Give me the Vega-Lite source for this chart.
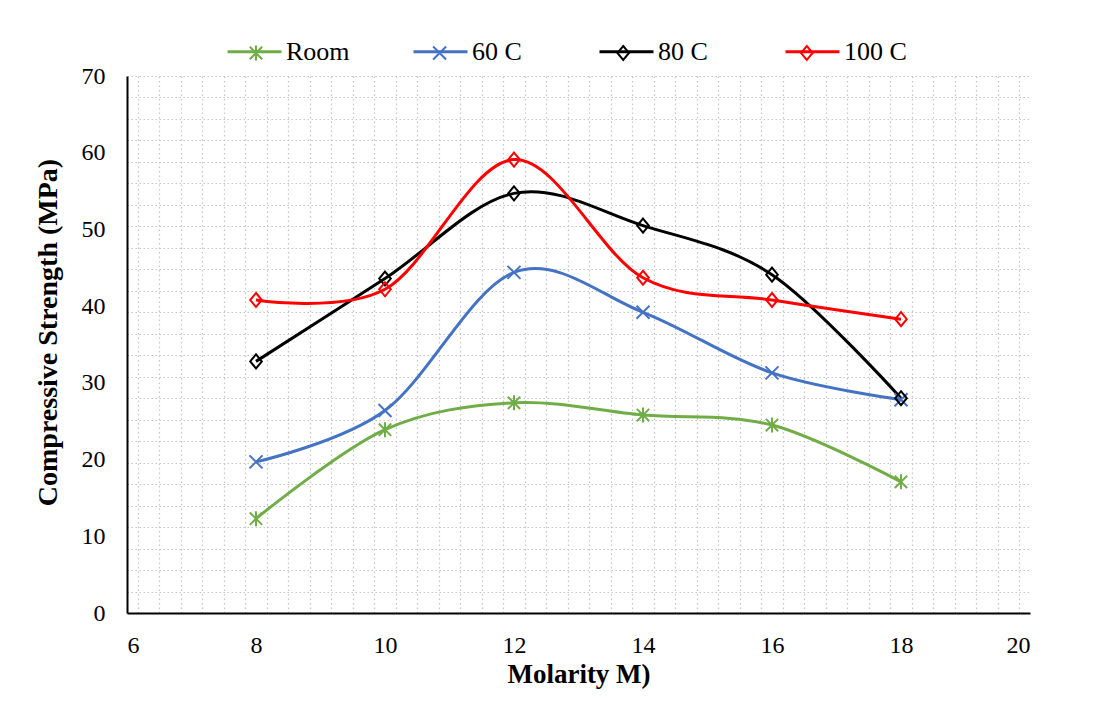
{
  "$schema": "https://vega.github.io/schema/vega-lite/v6.json",
  "width": 903,
  "height": 537,
  "autosize": "none",
  "padding": {"left": 127, "top": 76, "right": 83, "bottom": 89},
  "background": "white",
  "config": {
    "view": {"stroke": null},
    "font": "Liberation Serif",
    "axis": {"labelFont": "Liberation Serif", "titleFont": "Liberation Serif"}
  },
  "data": {
    "values": [
      {"series": "Room", "M": 8, "S": 12.3},
      {"series": "Room", "M": 10, "S": 23.9},
      {"series": "Room", "M": 12, "S": 27.4},
      {"series": "Room", "M": 14, "S": 25.8},
      {"series": "Room", "M": 16, "S": 24.5},
      {"series": "Room", "M": 18, "S": 17.1},
      {"series": "60 C", "M": 8, "S": 19.7},
      {"series": "60 C", "M": 10, "S": 26.4},
      {"series": "60 C", "M": 12, "S": 44.4},
      {"series": "60 C", "M": 14, "S": 39.2},
      {"series": "60 C", "M": 16, "S": 31.3},
      {"series": "60 C", "M": 18, "S": 27.8},
      {"series": "80 C", "M": 8, "S": 32.8},
      {"series": "80 C", "M": 10, "S": 43.6},
      {"series": "80 C", "M": 12, "S": 54.7},
      {"series": "80 C", "M": 14, "S": 50.5},
      {"series": "80 C", "M": 16, "S": 44.1},
      {"series": "80 C", "M": 18, "S": 28.0},
      {"series": "100 C", "M": 8, "S": 40.8},
      {"series": "100 C", "M": 10, "S": 42.2},
      {"series": "100 C", "M": 12, "S": 59.1},
      {"series": "100 C", "M": 14, "S": 43.7},
      {"series": "100 C", "M": 16, "S": 40.8},
      {"series": "100 C", "M": 18, "S": 38.3}
    ]
  },
  "layer": [
    {
      "mark": {"type": "line", "interpolate": "cardinal", "strokeWidth": 3},
      "encoding": {
        "x": {
          "field": "M", "type": "quantitative",
          "scale": {"domain": [6, 20], "nice": false, "zero": false},
          "axis": {
            "orient": "bottom",
            "values": [6.1667, 6.5, 6.8333, 7.1667, 7.5, 7.8333, 8.1667, 8.5, 8.8333, 9.1667, 9.5, 9.8333, 10.1667, 10.5, 10.8333, 11.1667, 11.5, 11.8333, 12.1667, 12.5, 12.8333, 13.1667, 13.5, 13.8333, 14.1667, 14.5, 14.8333, 15.1667, 15.5, 15.8333, 16.1667, 16.5, 16.8333, 17.1667, 17.5, 17.8333, 18.1667, 18.5, 18.8333, 19.1667, 19.5, 19.8333],
            "grid": true, "gridColor": "#c4c4c4", "gridDash": [1.5, 3], "gridWidth": 1.2,
            "labels": false, "ticks": false, "domain": false, "title": null
          }
        },
        "y": {
          "field": "S", "type": "quantitative",
          "scale": {"domain": [0, 70], "nice": false},
          "axis": {
            "orient": "left",
            "values": [0, 2.8, 5.6, 8.4, 11.2, 14, 16.8, 19.6, 22.4, 25.2, 28, 30.8, 33.6, 36.4, 39.2, 42, 44.8, 47.6, 50.4, 53.2, 56, 58.8, 61.6, 64.4, 67.2, 70],
            "grid": true, "gridColor": "#c4c4c4", "gridDash": [1.5, 2.5], "gridWidth": 1.2,
            "labels": false, "ticks": false, "domain": false, "title": null
          }
        },
        "stroke": {
          "field": "series", "type": "nominal",
          "sort": ["Room", "60 C", "80 C", "100 C"],
          "scale": {"range": ["#70AD47", "#4472C4", "#000000", "#FF0000"]},
          "legend": {
            "orient": "none", "legendX": 99, "legendY": -53, "direction": "horizontal",
            "title": null, "symbolType": "M-1,0L1,0", "symbolSize": 2916, "symbolStrokeWidth": 3,
            "labelFont": "Liberation Serif", "labelFontSize": 26, "labelColor": "#000000", "labelOffset": 3,
            "gridAlign": "all", "columnPadding": 57
          }
        },
        "detail": {"field": "series"}
      }
    },
    {
      "mark": {"type": "point", "filled": false, "strokeWidth": 2, "size": 400, "opacity": 1},
      "encoding": {
        "x": {
          "field": "M", "type": "quantitative",
          "axis": {
            "orient": "bottom",
            "values": [6, 8, 10, 12, 14, 16, 18, 20],
            "grid": false, "ticks": false,
            "domain": true, "domainColor": "#000000", "domainWidth": 2,
            "labelFont": "Liberation Serif", "labelFontSize": 24, "labelColor": "#000000", "labelPadding": 20,
            "title": "Molarity M)", "titleFont": "Liberation Serif", "titleFontSize": 27, "titleFontWeight": "bold", "titleColor": "#000000", "titlePadding": 4
          }
        },
        "y": {
          "field": "S", "type": "quantitative",
          "axis": {
            "orient": "left",
            "values": [0, 10, 20, 30, 40, 50, 60, 70],
            "grid": false, "ticks": false,
            "domain": true, "domainColor": "#000000", "domainWidth": 2,
            "labelFont": "Liberation Serif", "labelFontSize": 24, "labelColor": "#000000", "labelPadding": 22,
            "title": "Compressive Strength (MPa)", "titleFont": "Liberation Serif", "titleFontSize": 28, "titleFontWeight": "bold", "titleColor": "#000000", "titlePadding": 19, "titleY": 256
          }
        },
        "color": {
          "field": "series", "type": "nominal",
          "scale": {"domain": ["Room", "60 C", "80 C", "100 C"], "range": ["#70AD47", "#4472C4", "#000000", "#FF0000"]},
          "legend": {
            "orient": "none", "legendX": 116, "legendY": -36, "direction": "horizontal",
            "title": null, "symbolSize": 400, "symbolStrokeWidth": 2, "symbolFillColor": "white",
            "labelExpr": "''", "labelOffset": 0, "labelFontSize": 26,
            "gridAlign": "all", "columnPadding": 157.6
          }
        },
        "shape": {
          "field": "series", "type": "nominal",
          "scale": {"domain": ["Room", "60 C", "80 C", "100 C"], "range": ["M0,-0.75L0,0.75M-0.62,-0.62L0.62,0.62M-0.62,0.62L0.62,-0.62", "M-0.65,-0.65L0.65,0.65M-0.65,0.65L0.65,-0.65", "M0,-0.7L0.58,0L0,0.7L-0.58,0Z", "M0,-0.7L0.58,0L0,0.7L-0.58,0Z"]}
        }
      }
    }
  ],
  "resolve": {"axis": {"x": "independent", "y": "independent"}}
}
